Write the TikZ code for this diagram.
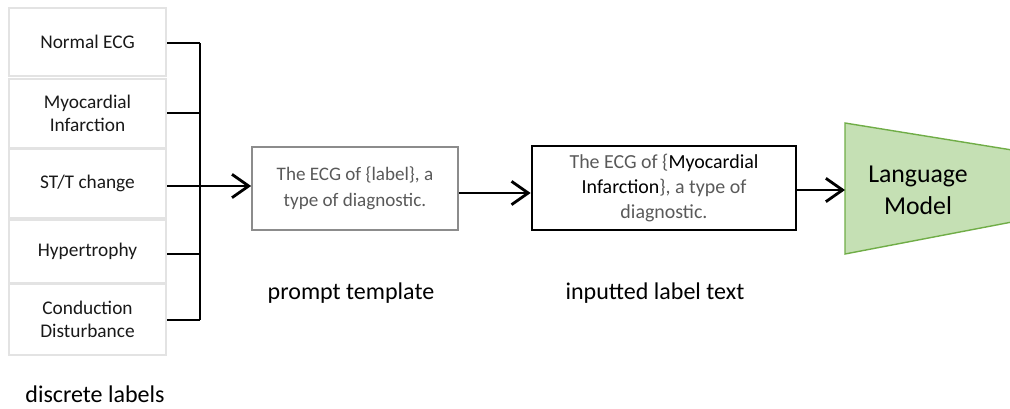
\documentclass[tikz,border=0pt]{standalone}
\usepackage{fontspec}
\setmainfont{Carlito}
\usetikzlibrary{positioning}
\usetikzlibrary{arrows.meta,shapes}
\usetikzlibrary{calc}
\newcommand{\pix}{0.03cm}
\definecolor{boxgray}{HTML}{E3E3E3}
\definecolor{tplgray}{HTML}{8C8C8C}
\definecolor{txtgray}{HTML}{595959}
\definecolor{lmfill}{HTML}{C5E0B4}
\definecolor{lmdraw}{HTML}{70AD47}
\tikzstyle{labelbox}=[rectangle,draw=boxgray,line width=2.5pt,minimum width=157*\pix,inner sep=0pt,align=center,text=black!90,font=\fontsize{16.5}{19.6}\selectfont]
\tikzstyle{promptbox}=[rectangle,draw=tplgray,line width=1.5pt,minimum width=206*\pix,minimum height=83*\pix,inner sep=0pt,align=center,text=txtgray,font=\fontsize{16.3}{22}\selectfont]
\tikzstyle{inputbox}=[rectangle,draw=black,line width=2.3pt,minimum width=264*\pix,minimum height=84*\pix,inner sep=0pt,align=center,text=txtgray,font=\fontsize{17}{21.5}\selectfont]
\tikzstyle{caption}=[font=\fontsize{20.5}{24}\selectfont]
\tikzstyle{edge} = [draw,line width=2.4pt,-{Straight Barb[length=5mm,width=7mm,line width=2.4pt]}]
\tikzstyle{branch} = [draw,line width=2.4pt]

\begin{document}
\begin{tikzpicture}[x=0.03cm,y=-0.03cm]
    \useasboundingbox (0,0) rectangle (1010,408);

    % the discrete labels, one box each
    \foreach \pos/\name/\height/\label in {{(87.5,42)/L1/68/Normal ECG}, {(87.5,113.5)/L2/69/Myocardial\\Infarction}, {(87.5,183.5)/L3/69/{ST/T change}}, {(87.5,251.5)/L4/63/Hypertrophy}, {(87.5,319.5)/L5/71/Conduction\\Disturbance}}
        \node[labelbox,minimum height=\height*\pix] (\name) at \pos {\label};
    \node[caption] (dl) at (95,394) {discrete labels};

    % the bracket joining them
    \coordinate (join) at (200,186);
    \foreach \name/\y in {L1/43, L2/113, L3/186, L4/254, L5/320}
        \path[branch] (\name.east |- 0,\y) -- (200,\y);
    \path[branch] (200,43) -- (200,320);

    % prompt template and filled-in text
    \node[promptbox] (tpl) at (355,188.5) {The ECG of \{label\}, a\\type of diagnostic.};
    \node[caption] (tplcap) at (351,293) {prompt template};
    \node[inputbox] (inp) at (664,188) {The ECG of \{\textcolor{black}{Myocardial}\\\textcolor{black}{Infarction}\}, a type of\\diagnostic.};
    \node[caption] (inpcap) at (655,293) {inputted label text};

    % language model
    \coordinate (lmleft) at (845,190);
    \path[draw=lmdraw,fill=lmfill,line width=1.2pt] (845,123) -- (1012,150) -- (1012,222) -- (845,254) -- cycle;
    \node[align=center,font=\fontsize{22}{27}\selectfont] (lm) at (918,190) {Language\\Model};

    % Connect the blocks
    \path[edge] (L3.east |- join) -- (tpl.west |- join);
    \path[edge] (tpl.east |- 0,193) -- (inp.west |- 0,193);
    \path[edge] (inp.east |- lmleft) -- (lmleft);

\end{tikzpicture}
\end{document}
